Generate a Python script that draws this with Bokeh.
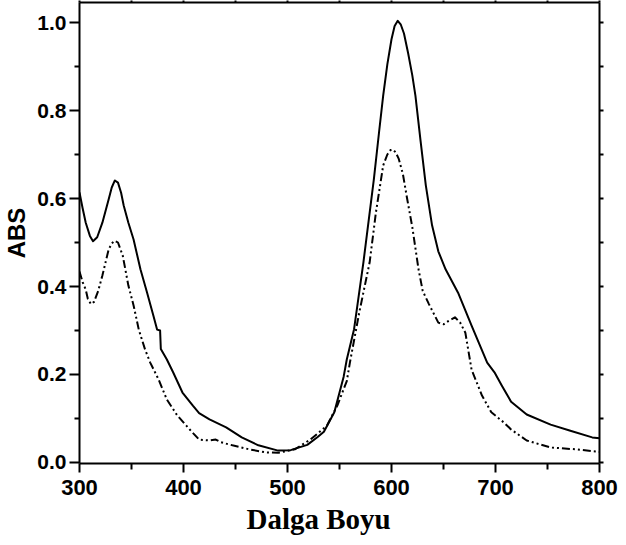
from bokeh.plotting import figure
from bokeh.models import LinearAxis, FixedTicker, Range1d, Title, PrintfTickFormatter
from bokeh.embed import file_html
from bokeh.resources import INLINE

# Solid curve (sample 1)
wl_solid = [300, 303, 306, 310, 313, 317, 322, 328, 331, 334, 337, 340, 342.5, 347, 352, 358.6, 365, 371,
            374.6, 377.5, 378.2, 384, 390, 399, 409, 415, 425, 441, 456, 472, 491, 503, 519, 529, 535,
            545, 554, 557, 564, 573, 583, 588, 592, 596, 600, 603, 606, 609, 612, 616, 620, 623, 628,
            633, 639, 645, 652, 664, 677, 692, 699, 706, 715, 730, 753, 772, 793, 800]
abs_solid = [0.614, 0.578, 0.545, 0.515, 0.503, 0.512, 0.545, 0.598, 0.625, 0.641, 0.636, 0.613, 0.584, 0.545, 0.507, 0.439, 0.386, 0.334,
             0.302, 0.300, 0.258, 0.234, 0.205, 0.159, 0.129, 0.112, 0.098, 0.080, 0.057, 0.039, 0.027, 0.028, 0.040, 0.058, 0.070,
             0.114, 0.195, 0.234, 0.303, 0.455, 0.643, 0.750, 0.834, 0.905, 0.962, 0.992, 1.004, 0.995, 0.975, 0.930, 0.880, 0.834, 0.730,
             0.630, 0.539, 0.480, 0.439, 0.386, 0.311, 0.227, 0.205, 0.175, 0.138, 0.109, 0.086, 0.072, 0.057, 0.055]

# Dash-dot-dot curve (sample 2)
wl_dash = [300, 303, 306, 308, 311, 314, 318, 322, 328, 331, 334, 337, 341.6, 347, 352, 357, 363, 368, 376,
           384, 394, 406, 415, 425, 431, 436, 447, 463, 479, 491, 507, 522, 538, 548, 557, 560, 569, 579,
           585, 592, 596, 599, 601.5, 604, 607, 611, 615, 620, 626, 630, 636, 645, 650, 655, 661, 666, 671,
           677, 687, 696, 708, 715, 730, 753, 777, 796, 800]
abs_dash = [0.434, 0.410, 0.393, 0.372, 0.360, 0.365, 0.390, 0.425, 0.484, 0.498, 0.504, 0.500, 0.470, 0.402, 0.357, 0.302, 0.257, 0.227, 0.189,
            0.143, 0.107, 0.075, 0.052, 0.050, 0.052, 0.046, 0.039, 0.030, 0.023, 0.022, 0.030, 0.052, 0.084, 0.130, 0.185, 0.227, 0.341, 0.455,
            0.568, 0.675, 0.700, 0.710, 0.711, 0.705, 0.690, 0.655, 0.600, 0.535, 0.439, 0.390, 0.360, 0.318, 0.314, 0.322, 0.330, 0.318, 0.295,
            0.211, 0.152, 0.114, 0.091, 0.075, 0.050, 0.034, 0.030, 0.025, 0.024]

x_major = [300, 400, 500, 600, 700, 800]
x_minor = [350, 450, 550, 650, 750]
y_major = [0.0, 0.2, 0.4, 0.6, 0.8, 1.0]
y_minor = [0.1, 0.3, 0.5, 0.7, 0.9]

p = figure(width=618, height=537, output_backend="svg", toolbar_location=None,
           x_range=Range1d(300, 800), y_range=Range1d(-0.0023, 1.0455),
           min_border_left=70, min_border_right=19, min_border_top=2, min_border_bottom=74,
           y_axis_label="ABS")
p.grid.visible = False
p.outline_line_color = None
p.background_fill_color = "white"
p.border_fill_color = "white"

p.line(wl_solid, abs_solid, line_color="black", line_width=2, line_join="round")
p.line(wl_dash, abs_dash, line_color="black", line_width=2, line_join="round", line_dash="8 3 2 3 2 3")

xa = p.xaxis[0]
xa.ticker = FixedTicker(ticks=x_major, minor_ticks=x_minor)
xa.axis_line_width = 2
xa.major_tick_line_width = 2
xa.minor_tick_line_width = 2
xa.major_tick_out = 9
xa.major_tick_in = 0
xa.minor_tick_out = 6
xa.minor_tick_in = 0
xa.major_label_text_font = "Liberation Sans"
xa.major_label_text_font_style = "bold"
xa.major_label_text_font_size = "22px"
xa.major_label_text_color = "black"
xa.major_label_standoff = 7

ya = p.yaxis[0]
ya.ticker = FixedTicker(ticks=y_major, minor_ticks=y_minor)
ya.formatter = PrintfTickFormatter(format="%.1f")
ya.axis_line_width = 2
ya.major_tick_line_width = 2
ya.minor_tick_line_width = 2
ya.major_tick_out = 10
ya.major_tick_in = 0
ya.minor_tick_out = 5
ya.minor_tick_in = 0
ya.major_label_text_font = "Liberation Sans"
ya.major_label_text_font_style = "bold"
ya.major_label_text_font_size = "21px"
ya.major_label_text_color = "black"
ya.major_label_standoff = 3
ya.axis_label_text_font = "Liberation Sans"
ya.axis_label_text_font_style = "bold"
ya.axis_label_text_font_size = "24px"
ya.axis_label_text_color = "black"
ya.axis_label_standoff = 4

p.add_layout(Title(text="Dalga Boyu", align="left", offset=167, text_font="Liberation Serif",
                   text_font_style="bold", text_font_size="29px", text_color="black",
                   standoff=6, vertical_align="bottom"), "below")

top = LinearAxis(ticker=FixedTicker(ticks=x_major + x_minor))
top.axis_line_width = 2
top.major_tick_line_width = 2
top.major_tick_out = 2
top.major_tick_in = 0
top.minor_tick_line_color = None
top.major_label_overrides = {t: "" for t in x_major + x_minor}
top.major_label_standoff = 0
p.add_layout(top, "above")

right = LinearAxis(ticker=FixedTicker(ticks=y_major + y_minor))
right.axis_line_width = 2
right.major_tick_line_width = 2
right.major_tick_out = 4
right.major_tick_in = 0
right.minor_tick_line_color = None
right.major_label_overrides = {t: "" for t in y_major + y_minor}
right.major_label_standoff = 0
p.add_layout(right, "right")

open("out.html", "w").write(file_html(p, INLINE))
